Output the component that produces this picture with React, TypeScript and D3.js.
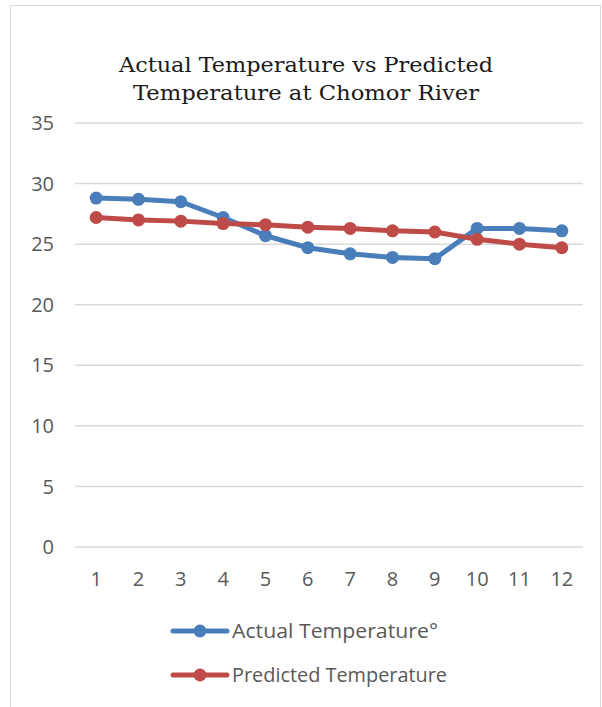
import React, { useEffect, useRef } from "react";
import * as d3 from "d3";

const months = [1, 2, 3, 4, 5, 6, 7, 8, 9, 10, 11, 12];
const actual = [28.8, 28.7, 28.5, 27.2, 25.7, 24.7, 24.2, 23.9, 23.8, 26.3, 26.3, 26.1];
const predicted = [27.2, 27.0, 26.9, 26.7, 26.6, 26.4, 26.3, 26.1, 26.0, 25.4, 25.0, 24.7];
const yTicks = [0, 5, 10, 15, 20, 25, 30, 35];
const seriesNames = ["Actual Temperature°", "Predicted Temperature"];
const seriesColors = ["#4a7ebb", "#be4b48"];
const titleLines = ["Actual Temperature vs Predicted", "Temperature at Chomor River"];

export default function App() {
  const ref = useRef<SVGSVGElement>(null);
  useEffect(() => {
    const svg = d3.select(ref.current);
    svg.selectAll("*").remove();
    const left = 75, right = 583, top = 123, bottom = 547;
    const x = d3.scaleBand<number>().domain(months).range([left, right]);
    const y = d3.scaleLinear().domain([0, 35]).range([bottom, top]);
    const sans = "'Open Sans', 'Liberation Sans', sans-serif";

    svg.append("rect").attr("x", 10.5).attr("y", 5.5).attr("width", 590).attr("height", 710)
      .attr("fill", "white").attr("stroke", "#d9d9d9").attr("stroke-width", 1);

    const titleWidths = [374, 346];
    titleLines.forEach((l, i) =>
      svg.append("text").attr("text-anchor", "middle").attr("x", 306).attr("y", 72 + i * 28)
        .attr("font-family", "'DejaVu Serif', serif").attr("font-size", 21).attr("fill", "#1a1a1a")
        .attr("textLength", titleWidths[i]).attr("lengthAdjust", "spacingAndGlyphs").text(l));

    const g = svg.append("g");
    yTicks.forEach(t => {
      g.append("line").attr("x1", left).attr("x2", right).attr("y1", y(t)).attr("y2", y(t))
        .attr("stroke", "#d9d9d9").attr("stroke-width", 1.5);
      g.append("text").attr("x", 54).attr("y", y(t)).attr("dy", "0.36em").attr("text-anchor", "end")
        .attr("font-family", sans).attr("font-size", 20).attr("fill", "#595959").text(t);
    });
    months.forEach(m => {
      g.append("text").attr("x", x(m)! + x.bandwidth() / 2).attr("y", 579).attr("dy", "0.36em")
        .attr("text-anchor", "middle").attr("font-family", sans).attr("font-size", 20)
        .attr("fill", "#595959").text(m);
    });

    const cx = (i: number) => x(months[i])! + x.bandwidth() / 2;
    [actual, predicted].forEach((data, si) => {
      const line = d3.line<number>().x((_, i) => cx(i)).y(d => y(d));
      g.append("path").attr("d", line(data)).attr("fill", "none").attr("stroke", seriesColors[si])
        .attr("stroke-width", 5).attr("stroke-linejoin", "round").attr("stroke-linecap", "round");
      data.forEach((d, i) => {
        g.append("circle").attr("cx", cx(i)).attr("cy", y(d)).attr("r", 6.5).attr("fill", seriesColors[si]);
      });
    });

    const legendWidths = [206, 215];
    seriesNames.forEach((name, i) => {
      const ly = 631 + i * 44;
      g.append("line").attr("x1", 173).attr("x2", 227).attr("y1", ly).attr("y2", ly)
        .attr("stroke", seriesColors[i]).attr("stroke-width", 5).attr("stroke-linecap", "round");
      g.append("circle").attr("cx", 200).attr("cy", ly).attr("r", 6.5).attr("fill", seriesColors[i]);
      g.append("text").attr("x", 232).attr("y", ly).attr("dy", "0.36em")
        .attr("font-family", sans).attr("font-size", 20).attr("fill", "#595959")
        .attr("textLength", legendWidths[i]).attr("lengthAdjust", "spacingAndGlyphs").text(name);
    });
  }, []);
  return (
    <svg ref={ref} width={602} height={707} style={{ position: "absolute", left: 0, top: 0 }} />
  );
}
